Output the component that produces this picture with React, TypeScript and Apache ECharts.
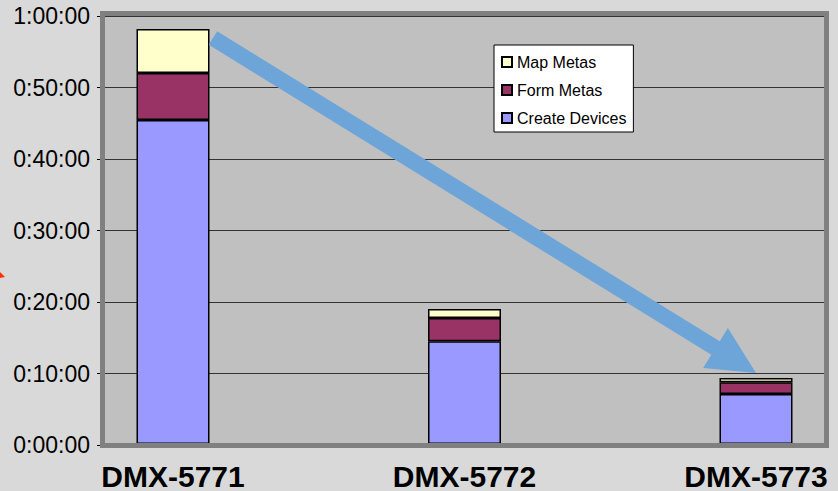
import React, { useEffect, useRef } from "react";
import * as echarts from "echarts";

const categories = ["DMX-5771", "DMX-5772", "DMX-5773"];
// durations in seconds
const createDevices = [2725, 865, 420];
const formMetas = [395, 195, 100];
const mapMetas = [370, 75, 35];
const legendOrder = ["Map Metas", "Form Metas", "Create Devices"];
const yMax = 3600;
const yStep = 600;

function fmt(v: number): string {
  const h = Math.floor(v / 3600);
  const m = Math.floor((v % 3600) / 60);
  const s = Math.floor(v % 60);
  return `${h}:${String(m).padStart(2, "0")}:${String(s).padStart(2, "0")}`;
}

export default function App() {
  const ref = useRef<HTMLDivElement>(null);
  useEffect(() => {
    if (!ref.current) return;
    const chart = echarts.init(ref.current, null, { renderer: "svg" });
    const font = "'Liberation Sans', Arial, sans-serif";
    const barStyle = (color: string) => ({
      color,
      borderColor: "#000",
      borderWidth: 1.5,
    });
    // arrow geometry (annotation)
    const sx = 213, sy = 38, bx = 715.5, by = 348, tx = 756, ty = 373;
    const nx = -0.525, ny = 0.851, hw = 8, hh = 23.6;
    const arrow = [
      [sx + hw * nx, sy + hw * ny],
      [bx + hw * nx, by + hw * ny],
      [bx + hh * nx, by + hh * ny],
      [tx, ty],
      [bx - hh * nx, by - hh * ny],
      [bx - hw * nx, by - hw * ny],
      [sx - hw * nx, sy - hw * ny],
    ];
    chart.setOption({
      animation: false,
      backgroundColor: "#d9d9d9",
      textStyle: { fontFamily: font },
      grid: [
        {
          left: 105,
          right: 14,
          top: 16,
          bottom: 46,
          show: true,
          backgroundColor: "#c0c0c0",
          borderWidth: 0,
        },
        { left: 173, right: 82, top: 16, bottom: 46 },
      ],
      xAxis: [
        { type: "value", gridIndex: 0, show: false, min: 0, max: 1 },
        {
          type: "category",
          gridIndex: 1,
          data: categories,
          boundaryGap: false,
          axisLine: { show: false },
          axisTick: { show: false },
          axisLabel: {
            margin: 17,
            fontSize: 30,
            fontWeight: "bold",
            color: "#000",
            fontFamily: font,
          },
        },
      ],
      yAxis: [
        {
          type: "value",
          gridIndex: 0,
          min: 0,
          max: yMax,
          interval: yStep,
          axisLine: { show: false },
          axisTick: { show: true, length: 8, lineStyle: { color: "#000" } },
          axisLabel: {
            margin: 15,
            fontSize: 23,
            color: "#000",
            fontFamily: font,
            formatter: (v: number) => fmt(v),
          },
          splitLine: { show: true, lineStyle: { color: "#333", width: 1 } },
        },
        { type: "value", gridIndex: 1, min: 0, max: yMax, show: false },
      ],
      legend: {
        data: legendOrder,
        orient: "vertical",
        left: 494,
        top: 45,
        padding: [9, 7, 6, 7],
        itemGap: 12,
        itemWidth: 10,
        itemHeight: 10,
        icon: "rect",
        backgroundColor: "#fff",
        borderColor: "#000",
        borderWidth: 1,
        textStyle: { fontSize: 16, color: "#000", fontFamily: font, lineHeight: 16 },
      },
      series: [
        {
          name: "Create Devices",
          type: "bar",
          stack: "t",
          xAxisIndex: 1,
          yAxisIndex: 1,
          barWidth: 73,
          clip: false,
          data: createDevices,
          itemStyle: barStyle("#9999ff"),
        },
        {
          name: "Form Metas",
          type: "bar",
          stack: "t",
          xAxisIndex: 1,
          yAxisIndex: 1,
          barWidth: 73,
          clip: false,
          data: formMetas,
          itemStyle: barStyle("#993366"),
        },
        {
          name: "Map Metas",
          type: "bar",
          stack: "t",
          xAxisIndex: 1,
          yAxisIndex: 1,
          barWidth: 73,
          clip: false,
          data: mapMetas,
          itemStyle: barStyle("#ffffcc"),
        },
      ],
      graphic: [
        {
          type: "rect",
          z: 100,
          shape: { x: 102.5, y: 13.5, width: 724, height: 432 },
          style: { fill: "transparent", stroke: "#808080", lineWidth: 5 },
        },
        {
          type: "polygon",
          z: 110,
          shape: { points: arrow },
          style: { fill: "#6ea5d8" },
        },
        {
          type: "polygon",
          z: 110,
          shape: { points: [[0, 272], [5, 277], [0, 278]] },
          style: { fill: "#ff3300" },
        },
      ],
    });
    return () => chart.dispose();
  }, []);
  return (
    <div
      ref={ref}
      style={{ position: "fixed", left: 0, top: 0, width: 838, height: 491 }}
    />
  );
}
